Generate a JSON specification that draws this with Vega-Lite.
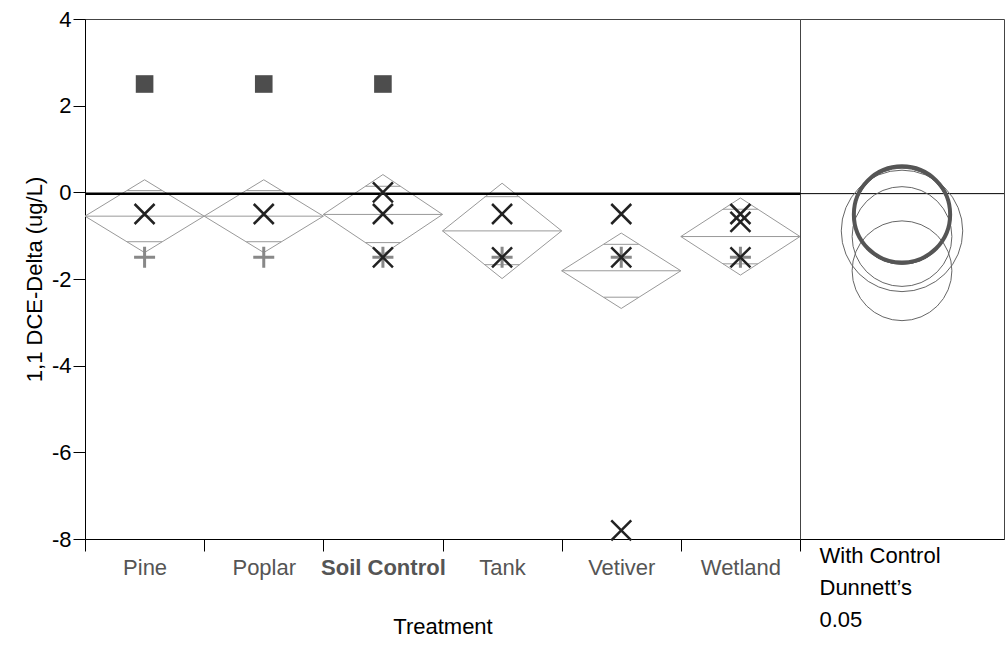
{
  "$schema": "https://vega.github.io/schema/vega-lite/v6.json",
  "background": "white",
  "padding": {"left": 22, "top": 7, "right": 0, "bottom": 0},
  "spacing": 0,
  "bounds": "flush",
  "config": {
    "font": "Liberation Sans",
    "view": {"stroke": "#444", "strokeWidth": 1},
    "axis": {
      "domainColor": "#000", "tickColor": "#000", "grid": false,
      "labelFont": "Liberation Sans", "titleFont": "Liberation Sans",
      "labelFontSize": 22, "titleFontSize": 22, "titleFontWeight": "normal",
      "titleColor": "#000"
    }
  },
  "datasets": {
    "obs": [
      {"Treatment": "Pine", "Value": 2.5, "Marker": "Square"},
      {"Treatment": "Pine", "Value": -0.5, "Marker": "X"},
      {"Treatment": "Pine", "Value": -1.5, "Marker": "Plus"},
      {"Treatment": "Poplar", "Value": 2.5, "Marker": "Square"},
      {"Treatment": "Poplar", "Value": -0.5, "Marker": "X"},
      {"Treatment": "Poplar", "Value": -1.5, "Marker": "Plus"},
      {"Treatment": "Soil Control", "Value": 2.5, "Marker": "Square"},
      {"Treatment": "Soil Control", "Value": 0, "Marker": "X"},
      {"Treatment": "Soil Control", "Value": -0.5, "Marker": "X"},
      {"Treatment": "Soil Control", "Value": -1.5, "Marker": "X"},
      {"Treatment": "Soil Control", "Value": -1.5, "Marker": "Plus"},
      {"Treatment": "Tank", "Value": -0.5, "Marker": "X"},
      {"Treatment": "Tank", "Value": -1.5, "Marker": "X"},
      {"Treatment": "Tank", "Value": -1.5, "Marker": "Plus"},
      {"Treatment": "Vetiver", "Value": -0.5, "Marker": "X"},
      {"Treatment": "Vetiver", "Value": -1.5, "Marker": "X"},
      {"Treatment": "Vetiver", "Value": -1.5, "Marker": "Plus"},
      {"Treatment": "Vetiver", "Value": -7.8, "Marker": "X"},
      {"Treatment": "Wetland", "Value": -0.5, "Marker": "X"},
      {"Treatment": "Wetland", "Value": -0.68, "Marker": "X"},
      {"Treatment": "Wetland", "Value": -1.5, "Marker": "X"},
      {"Treatment": "Wetland", "Value": -1.5, "Marker": "Plus"}
    ],
    "means": [
      {"Treatment": "Pine", "Mean": -0.55, "Upper": 0.29, "Lower": -1.39, "OvHi": 0.04, "OvLo": -1.14},
      {"Treatment": "Poplar", "Mean": -0.55, "Upper": 0.29, "Lower": -1.39, "OvHi": 0.04, "OvLo": -1.14},
      {"Treatment": "Soil Control", "Mean": -0.51, "Upper": 0.41, "Lower": -1.43, "OvHi": 0.14, "OvLo": -1.16},
      {"Treatment": "Tank", "Mean": -0.89, "Upper": 0.21, "Lower": -1.99, "OvHi": -0.1, "OvLo": -1.67},
      {"Treatment": "Vetiver", "Mean": -1.81, "Upper": -0.94, "Lower": -2.68, "OvHi": -1.2, "OvLo": -2.42},
      {"Treatment": "Wetland", "Mean": -1.02, "Upper": -0.13, "Lower": -1.91, "OvHi": -0.39, "OvLo": -1.65}
    ],
    "circles": [
      {"Treatment": "Pine", "Mean": -0.55, "Radius": 1.11, "Role": "Other"},
      {"Treatment": "Poplar", "Mean": -0.55, "Radius": 1.11, "Role": "Other"},
      {"Treatment": "Tank", "Mean": -0.89, "Radius": 1.4, "Role": "Other"},
      {"Treatment": "Vetiver", "Mean": -1.81, "Radius": 1.15, "Role": "Other"},
      {"Treatment": "Wetland", "Mean": -1.02, "Radius": 1.15, "Role": "Other"},
      {"Treatment": "Soil Control", "Mean": -0.51, "Radius": 1.11, "Role": "Control"}
    ],
    "ref": [{"Reference": -0.03}]
  },
  "hconcat": [
    {
      "width": 715,
      "height": 520,
      "layer": [
        {
          "data": {"name": "means"},
          "mark": {"type": "rule", "color": "#999", "strokeWidth": 1},
          "encoding": {
            "x": {
              "field": "Treatment", "type": "nominal", "bandPosition": 0,
              "scale": {"type": "band", "paddingInner": 0, "paddingOuter": 0,
                "domain": ["Pine", "Poplar", "Soil Control", "Tank", "Vetiver", "Wetland"]},
              "axis": {
                "title": "Treatment", "labelAngle": 0, "tickBand": "extent",
                "tickSize": 12, "labelPadding": 6, "labelColor": "#555",
                "labelFontWeight": {"condition": {"test": "datum.label === 'Soil Control'", "value": "bold"}, "value": "normal"},
                "titlePadding": 38
              }
            },
            "x2": {"field": "Treatment", "bandPosition": 0.5},
            "y": {
              "field": "Mean", "type": "quantitative", "title": "1,1 DCE-Delta (ug/L)",
              "scale": {"domain": [-8, 4], "nice": false, "zero": false},
              "axis": {"values": [-8, -6, -4, -2, 0, 2, 4], "labelExpr": "datum.value + ''", "tickSize": 12, "labelPadding": 2, "labelColor": "#000", "titlePadding": 5}
            },
            "y2": {"field": "Upper"}
          }
        },
        {
          "data": {"name": "means"},
          "mark": {"type": "rule", "color": "#999", "strokeWidth": 1},
          "encoding": {
            "x": {"field": "Treatment", "type": "nominal", "bandPosition": 0.5, "title": "Treatment"},
            "x2": {"field": "Treatment", "bandPosition": 1},
            "y": {"field": "Upper", "type": "quantitative", "title": "1,1 DCE-Delta (ug/L)"},
            "y2": {"field": "Mean"}
          }
        },
        {
          "data": {"name": "means"},
          "mark": {"type": "rule", "color": "#999", "strokeWidth": 1},
          "encoding": {
            "x": {"field": "Treatment", "type": "nominal", "bandPosition": 1, "title": "Treatment"},
            "x2": {"field": "Treatment", "bandPosition": 0.5},
            "y": {"field": "Mean", "type": "quantitative", "title": "1,1 DCE-Delta (ug/L)"},
            "y2": {"field": "Lower"}
          }
        },
        {
          "data": {"name": "means"},
          "mark": {"type": "rule", "color": "#999", "strokeWidth": 1},
          "encoding": {
            "x": {"field": "Treatment", "type": "nominal", "bandPosition": 0.5, "title": "Treatment"},
            "x2": {"field": "Treatment", "bandPosition": 0},
            "y": {"field": "Lower", "type": "quantitative", "title": "1,1 DCE-Delta (ug/L)"},
            "y2": {"field": "Mean"}
          }
        },
        {
          "data": {"name": "means"},
          "mark": {"type": "rule", "color": "#999", "strokeWidth": 1},
          "encoding": {
            "x": {"field": "Treatment", "type": "nominal", "bandPosition": 0, "title": "Treatment"},
            "x2": {"field": "Treatment", "bandPosition": 1},
            "y": {"field": "Mean", "type": "quantitative", "title": "1,1 DCE-Delta (ug/L)"}
          }
        },
        {
          "data": {"name": "means"},
          "mark": {"type": "rule", "color": "#999", "strokeWidth": 1},
          "encoding": {
            "x": {"field": "Treatment", "type": "nominal", "bandPosition": 0.3536, "title": "Treatment"},
            "x2": {"field": "Treatment", "bandPosition": 0.6464},
            "y": {"field": "OvHi", "type": "quantitative", "title": "1,1 DCE-Delta (ug/L)"}
          }
        },
        {
          "data": {"name": "means"},
          "mark": {"type": "rule", "color": "#999", "strokeWidth": 1},
          "encoding": {
            "x": {"field": "Treatment", "type": "nominal", "bandPosition": 0.3536, "title": "Treatment"},
            "x2": {"field": "Treatment", "bandPosition": 0.6464},
            "y": {"field": "OvLo", "type": "quantitative", "title": "1,1 DCE-Delta (ug/L)"}
          }
        },
        {
          "data": {"name": "ref"},
          "mark": {"type": "rule", "color": "#000", "strokeWidth": 2.5},
          "encoding": {
            "y": {"field": "Reference", "type": "quantitative", "title": "1,1 DCE-Delta (ug/L)"}
          }
        },
        {
          "data": {"name": "obs"},
          "transform": [{"filter": "datum.Marker === 'Square'"}],
          "mark": {"type": "square", "filled": true, "color": "#4d4d4d", "size": 310, "opacity": 1},
          "encoding": {
            "x": {"field": "Treatment", "type": "nominal", "title": "Treatment"},
            "y": {"field": "Value", "type": "quantitative", "title": "1,1 DCE-Delta (ug/L)"}
          }
        },
        {
          "data": {"name": "obs"},
          "transform": [{"filter": "datum.Marker === 'Plus'"}],
          "mark": {"type": "point", "shape": "M-1,0L1,0M0,-1L0,1", "filled": false, "color": "#888", "strokeWidth": 3, "size": 441, "opacity": 1},
          "encoding": {
            "x": {"field": "Treatment", "type": "nominal", "title": "Treatment"},
            "y": {"field": "Value", "type": "quantitative", "title": "1,1 DCE-Delta (ug/L)"}
          }
        },
        {
          "data": {"name": "obs"},
          "transform": [{"filter": "datum.Marker === 'X'"}],
          "mark": {"type": "point", "shape": "M-1,-1L1,1M-1,1L1,-1", "filled": false, "color": "#222", "strokeWidth": 2.5, "size": 400, "opacity": 1},
          "encoding": {
            "x": {"field": "Treatment", "type": "nominal", "title": "Treatment"},
            "y": {"field": "Value", "type": "quantitative", "title": "1,1 DCE-Delta (ug/L)"}
          }
        }
      ]
    },
    {
      "width": 204,
      "height": 520,
      "layer": [
        {
          "data": {"name": "ref"},
          "mark": {"type": "rule", "color": "#000", "strokeWidth": 1},
          "encoding": {
            "y": {"field": "Reference", "type": "quantitative",
              "scale": {"domain": [-8, 4], "nice": false, "zero": false}, "axis": null}
          }
        },
        {
          "data": {"name": "circles"},
          "mark": {"type": "point", "shape": "circle", "filled": false, "opacity": 1},
          "encoding": {
            "x": {
              "datum": 0.5, "type": "quantitative",
              "scale": {"domain": [0, 1], "nice": false, "zero": false},
              "axis": {
                "title": ["With Control", "Dunnett’s", "\u2002\u20090.05"],
                "ticks": false, "labels": false, "domain": true,
                "titleAnchor": "start", "titleAlign": "left", "titleBaseline": "top",
                "titleX": 19, "titleY": 6, "titleLineHeight": 32
              }
            },
            "y": {"field": "Mean", "type": "quantitative", "axis": null},
            "size": {"field": "Radius", "type": "quantitative", "legend": null,
              "scale": {"type": "pow", "exponent": 2, "domain": [0, 1], "range": [0, 7525.6], "zero": true}},
            "strokeWidth": {"field": "Role", "type": "nominal", "legend": null,
              "scale": {"domain": ["Control", "Other"], "range": [4, 1]}},
            "color": {"field": "Role", "type": "nominal", "legend": null,
              "scale": {"domain": ["Control", "Other"], "range": ["#555", "#666"]}}
          }
        }
      ]
    }
  ]
}
